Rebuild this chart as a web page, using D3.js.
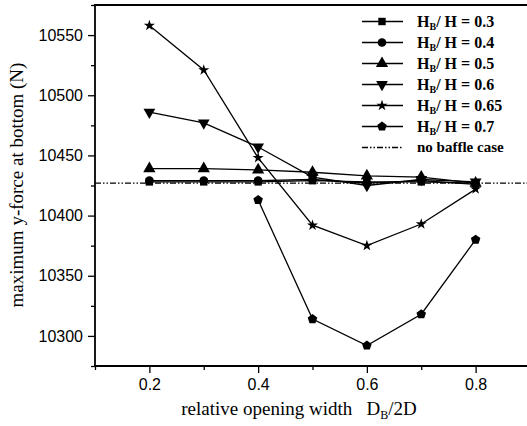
<!DOCTYPE html>
<html><head><meta charset="utf-8">
<script src="https://cdn.jsdelivr.net/npm/d3@7"></script>
<style>body{margin:0;background:#fff}svg{display:block}</style>
</head><body>
<svg id="c" width="527" height="426"></svg>
<script>
const xValues = [0.2, 0.3, 0.4, 0.5, 0.6, 0.7, 0.8];
const s03 = [10428, 10428, 10428, 10429, 10428, 10428, 10427];
const s04 = [10429, 10429, 10429, 10430, 10427, 10429, 10426];
const s05 = [10439, 10439, 10438, 10436, 10433, 10432, 10427];
const s06 = [10486, 10477, 10457, 10432, 10425, 10430, 10428];
const s065 = [10558, 10521, 10448, 10392, 10375, 10393, 10422];
const x07 = [0.4, 0.5, 0.6, 0.7, 0.8];
const s07 = [10413, 10314, 10292, 10318, 10380];
const noBaffle = 10427;
const yTicks = [10300, 10350, 10400, 10450, 10500, 10550];
const yMinor = [10275, 10325, 10375, 10425, 10475, 10525, 10575];
const xTicks = [0.2, 0.4, 0.6, 0.8];
const xMinor = [0.1, 0.3, 0.5, 0.7];
const legendLabels = ["0.3", "0.4", "0.5", "0.6", "0.65", "0.7"];

const svg = d3.select("#c");
const x = d3.scaleLinear().domain([0.1, 0.9]).range([95, 530]);
const y = d3.scaleLinear().domain([10275, 10575]).range([366, 5]);

const pentagon = {draw(ctx, size){
  const r = Math.sqrt(size / 2.378);
  for (let i = 0; i < 5; i++) {
    const a = -Math.PI/2 + i * 2*Math.PI/5;
    const px = r*Math.cos(a), py = r*Math.sin(a);
    if (i === 0) ctx.moveTo(px, py); else ctx.lineTo(px, py);
  }
  ctx.closePath();
}};
const triDown = {draw(ctx, size){
  const s = Math.sqrt(size / (Math.sqrt(3)/4));
  const h = s*Math.sqrt(3)/2;
  ctx.moveTo(0, 2*h/3); ctx.lineTo(s/2, -h/3); ctx.lineTo(-s/2, -h/3); ctx.closePath();
}};

const series = [
  {xs: xValues, vals: s03, sym: d3.symbolSquare, size: 55},
  {xs: xValues, vals: s04, sym: d3.symbolCircle, size: 60},
  {xs: xValues, vals: s05, sym: d3.symbolTriangle, size: 65},
  {xs: xValues, vals: s06, sym: triDown, size: 60},
  {xs: xValues, vals: s065, sym: d3.symbolStar, size: 38},
  {xs: x07, vals: s07, sym: pentagon, size: 60}
];

const serif = "Liberation Serif, Times New Roman, serif";
const sans = "Liberation Sans, Arial, sans-serif";

// no-baffle line
svg.append("line").attr("x1", x(0.1)).attr("x2", 527)
  .attr("y1", y(noBaffle)).attr("y2", y(noBaffle))
  .attr("stroke", "#000").attr("stroke-width", 1.2).attr("stroke-dasharray", "6,2,1.5,2,1.5,2");

const line = d3.line().x(d => x(d[0])).y(d => y(d[1]));
series.forEach(s => {
  const pts = s.xs.map((xv, i) => [xv, s.vals[i]]);
  svg.append("path").attr("d", line(pts)).attr("fill", "none")
    .attr("stroke", "#000").attr("stroke-width", 1.3);
  svg.selectAll(null).data(pts).enter().append("path")
    .attr("transform", d => `translate(${x(d[0])},${y(d[1])})`)
    .attr("d", d3.symbol().type(s.sym).size(s.size)).attr("fill", "#000");
});

// axes
const yAxis = d3.axisLeft(y).tickValues(yTicks).tickSize(7).tickFormat(d3.format("d"));
const gy = svg.append("g").attr("transform", "translate(95,0)").call(yAxis);
const gyMinor = svg.append("g").attr("transform", "translate(95,0)")
  .call(d3.axisLeft(y).tickValues(yMinor).tickSize(4).tickFormat(""));
const xAxis = d3.axisBottom(x).tickValues(xTicks).tickSize(7).tickFormat(d3.format(".1f"));
const gx = svg.append("g").attr("transform", "translate(0,366)").call(xAxis);
const gxMinor = svg.append("g").attr("transform", "translate(0,366)")
  .call(d3.axisBottom(x).tickValues(xMinor).tickSize(4).tickFormat(""));
[gy, gyMinor, gx, gxMinor].forEach(g => {
  g.select(".domain").remove();
  g.selectAll("line").attr("stroke", "#000").attr("stroke-width", 1.3);
  g.selectAll("text").attr("fill", "#000").attr("font-family", sans).attr("font-size", 16);
});
gy.selectAll("text").attr("x", -12);
gx.selectAll("text").attr("y", 13);

// frame
svg.append("line").attr("x1", 95).attr("x2", 95).attr("y1", 5).attr("y2", 367).attr("stroke", "#000").attr("stroke-width", 1.8);
svg.append("line").attr("x1", 94).attr("x2", 527).attr("y1", 366).attr("y2", 366).attr("stroke", "#000").attr("stroke-width", 2);
svg.append("line").attr("x1", 94).attr("x2", 527).attr("y1", 5).attr("y2", 5).attr("stroke", "#000").attr("stroke-width", 2);

// axis titles
svg.append("text").attr("transform", "translate(23,185) rotate(-90)")
  .attr("text-anchor", "middle").attr("font-family", serif)
  .attr("font-size", 19).attr("fill", "#000").text("maximum y-force at bottom (N)");
const xt = svg.append("text").attr("x", 299).attr("y", 415).attr("text-anchor", "middle")
  .attr("font-family", serif).attr("font-size", 19).attr("fill", "#000");
xt.append("tspan").text("relative opening width\u00a0\u00a0\u00a0D");
xt.append("tspan").attr("font-size", 12).attr("dy", 4).text("B");
xt.append("tspan").attr("dy", -4).text("/2D");

// legend
const lg = svg.append("g");
const rowY = i => 21.5 + i * 21;
series.forEach((s, i) => {
  const yy = rowY(i);
  lg.append("line").attr("x1", 362).attr("x2", 403).attr("y1", yy).attr("y2", yy)
    .attr("stroke", "#000").attr("stroke-width", 1.3);
  lg.append("path").attr("transform", `translate(382,${yy})`)
    .attr("d", d3.symbol().type(s.sym).size(s.size)).attr("fill", "#000");
  const t = lg.append("text").attr("x", 417).attr("y", yy + 5)
    .attr("font-family", serif).attr("font-weight", "bold")
    .attr("font-size", 16).attr("fill", "#000");
  t.append("tspan").text("H");
  t.append("tspan").attr("font-size", 10).attr("dy", 3).text("B");
  t.append("tspan").attr("dy", -3).text("/ H = " + legendLabels[i]);
});
const ny = rowY(6);
lg.append("line").attr("x1", 362).attr("x2", 403).attr("y1", ny).attr("y2", ny)
  .attr("stroke", "#000").attr("stroke-width", 1.3).attr("stroke-dasharray", "6,2,1.5,2,1.5,2");
lg.append("text").attr("x", 417).attr("y", ny + 4)
  .attr("font-family", serif).attr("font-weight", "bold")
  .attr("font-size", 15).attr("fill", "#000").text("no baffle case");
</script>
</body></html>
